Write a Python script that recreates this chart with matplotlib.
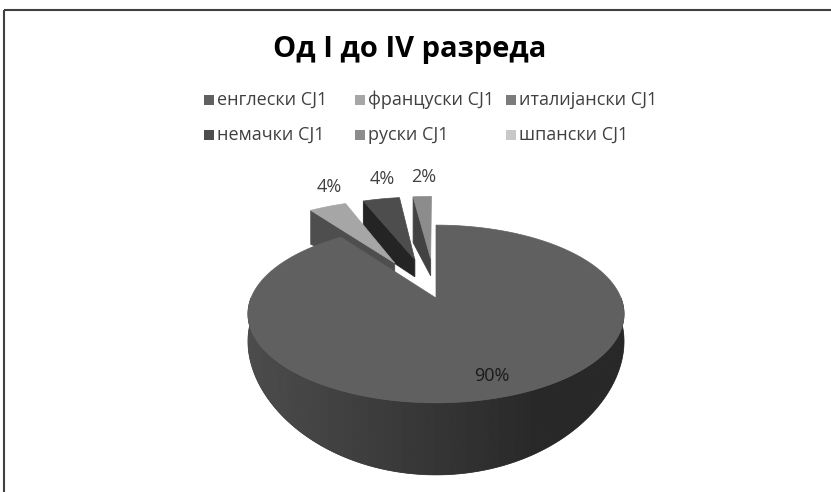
import numpy as np
import matplotlib.pyplot as plt
from matplotlib.patches import Polygon, Rectangle

plt.rcParams['font.family'] = ['Open Sans', 'DejaVu Sans']

title = 'Од I до IV разреда'
languages = ['енглески CJ1', 'француски CJ1', 'италијански CJ1',
             'немачки CJ1', 'руски CJ1', 'шпански CJ1']
shares = [90, 4, 0, 4, 2, 0]
colors = ['#606060', '#a6a6a6', '#7c7c7c', '#4d4d4d', '#8c8c8c', '#c8c8c8']
explode = [0, 0.5, 0.5, 0.5, 0.5, 0.5]

W, H = 831, 492
fig = plt.figure(figsize=(W / 100, H / 100), dpi=100)
ax = fig.add_axes([0, 0, 1, 1])

# simple perspective for the top plane of the 3d pie (pixel coords)
CX, CY = 436, 298
S, D = 185, 4.93
phi = np.radians(27.7)


def top(x, y):
    d = D + y * np.cos(phi)
    return CX + S * D * x / d, CY - S * D * np.sin(phi) * y / d


def bottom(x, y):
    # wall height in pixels, deeper at the front like the excel render
    X, Y = top(x, y)
    return X, Y + 22.3 - 23.5 * y + 26.3 * y ** 2


def shade(c, f):
    v = np.array([int(c[i:i + 2], 16) for i in (1, 3, 5)]) / 255 * f
    return tuple(v)


def quad(p, q, color):
    (x1, y1), (x2, y2) = p, q
    b1, b2 = bottom(x1, y1), bottom(x2, y2)
    pts = [top(x1, y1), top(x2, y2), b2, b1]
    ax.add_patch(Polygon(pts, closed=True, fc=color, ec=color, lw=0.6,
                         joinstyle='bevel', zorder=1))


def wall(ox, oy, lo, hi, c):
    th = np.linspace(lo, hi, 200)
    wx, wy = ox + np.sin(th), oy + np.cos(th)
    tx, ty = top(wx, wy)
    bx, by = bottom(wx, wy)
    pts = list(zip(tx, ty)) + list(zip(bx[::-1], by[::-1]))
    k = int(c[1:3], 16) / 0x60
    base = Polygon(pts, closed=True, fc=shade('#383838', k), ec=shade('#383838', k),
                   lw=0.5, zorder=1)
    ax.add_patch(base)
    # light from the left: gradient across the wall
    xs = np.linspace(min(bx.min(), tx.min()), max(bx.max(), tx.max()), 300)
    g = np.interp((xs - CX) / S, [-1, 0.55, 1], [0x4c, 0x29, 0x29]) / 255 * k
    img = np.tile(g, (2, 1))
    ax.imshow(img, cmap='gray', vmin=0, vmax=1, aspect='auto',
              interpolation='bilinear', zorder=1,
              extent=(xs[0], xs[-1], by.max() + 2, ty.min() - 2),
              clip_path=base, clip_on=True)


# slice geometry, clockwise from 12 o'clock
ends = np.cumsum(shares) * 3.6
starts = ends - np.array(shares) * 3.6
slices = []
for i, v in enumerate(shares):
    if v <= 0:
        continue
    a0, a1 = np.radians(starts[i]), np.radians(ends[i])
    mid = (a0 + a1) / 2
    ox, oy = explode[i] * np.sin(mid), explode[i] * np.cos(mid)
    slices.append((oy, i, a0, a1, mid, ox))
slices.sort(key=lambda s: -s[0])

for oy, i, a0, a1, mid, ox in slices:
    c = colors[i]
    # radial faces
    if np.sin(a0) < -1e-6:
        quad((ox, oy), (ox + np.sin(a0), oy + np.cos(a0)), shade(c, 0.47))
    if np.sin(a1) > 1e-6:
        quad((ox, oy), (ox + np.sin(a1), oy + np.cos(a1)), shade(c, 0.47))
    # outer wall, front half only
    lo, hi = max(a0, np.pi / 2), min(a1, 3 * np.pi / 2)
    if hi > lo:
        wall(ox, oy, lo, hi, c)
    # top face
    th = np.linspace(a0, a1, 200)
    xs, ys = top(ox + np.sin(th), oy + np.cos(th))
    pts = [top(ox, oy)] + list(zip(xs, ys))
    ax.add_patch(Polygon(pts, closed=True, fc=c, ec=c, lw=0.5,
                         joinstyle='bevel', zorder=1))

# data labels
for oy, i, a0, a1, mid, ox in slices:
    if explode[i] > 0:
        X, Y = top(ox + np.sin(mid), oy + np.cos(mid))
        ax.text(X + 1, Y - 20, f'{shares[i]}%', ha='center', va='center',
                fontsize=13, color='#404040', zorder=3)
    else:
        X, Y = top(0.8 * np.sin(mid), 0.8 * np.cos(mid))
        ax.text(X + 3, Y + 2, f'{shares[i]}%', ha='center', va='center',
                fontsize=13, color='#1a1a1a', zorder=3)

# title
ax.text(410, 49, title, ha='center', va='center', fontsize=21,
        fontweight='bold', color='black')

# legend, 3 columns x 2 rows
for i, name in enumerate(languages):
    row, col = divmod(i, 3)
    x0, y0 = 209 + col * 151, 100 + row * 35
    ax.add_patch(Rectangle((x0 - 5, y0 - 5), 10, 10, fc=colors[i], ec='none'))
    ax.text(x0 + 8, y0, name, ha='left', va='center', fontsize=13,
            color='#404040')

# chart border
ax.add_patch(Rectangle((4, 10), 900, 600, fill=False, ec='#404040', lw=1.5,
                       zorder=3))

ax.set_xlim(0, W)
ax.set_ylim(H, 0)
ax.axis('off')

fig.savefig('out.png', dpi=100)
